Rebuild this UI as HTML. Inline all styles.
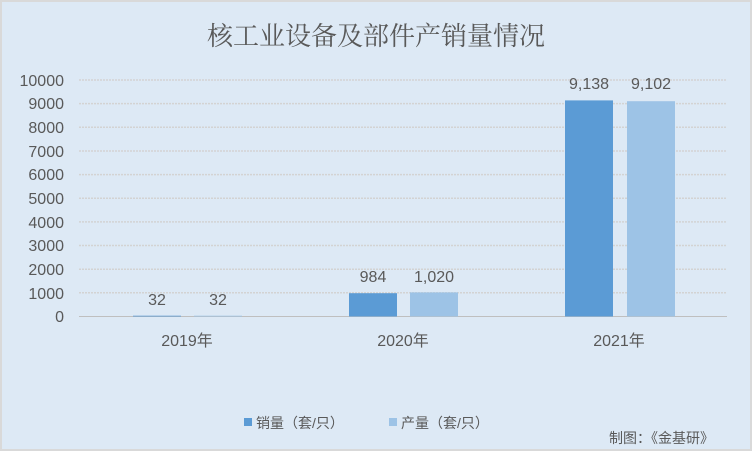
<!DOCTYPE html>
<html><head><meta charset="utf-8"><style>
body{margin:0;width:752px;height:451px;overflow:hidden;background:#dce9f5}
svg{display:block}
text{font-family:"Liberation Sans","Noto Sans CJK SC",sans-serif;fill:#595959}
</style></head><body>
<svg width="752" height="451" viewBox="0 0 752 451">
<rect x="1" y="1" width="750" height="449" fill="#dde9f5" stroke="#d9d9d9" stroke-width="2"/>
<text x="376" y="45" text-anchor="middle" font-size="26" style="font-family:'Noto Serif CJK SC',serif" fill="#595959">核工业设备及部件产销量情况</text>
<g stroke="#d3d3d3" stroke-width="1.5" stroke-dasharray="2,1">
<line x1="79" x2="727" y1="80" y2="80"/><line x1="79" x2="727" y1="103.6" y2="103.6"/>
<line x1="79" x2="727" y1="127.3" y2="127.3"/><line x1="79" x2="727" y1="151" y2="151"/>
<line x1="79" x2="727" y1="174.6" y2="174.6"/><line x1="79" x2="727" y1="198.2" y2="198.2"/>
<line x1="79" x2="727" y1="221.9" y2="221.9"/><line x1="79" x2="727" y1="245.5" y2="245.5"/>
<line x1="79" x2="727" y1="269.2" y2="269.2"/><line x1="79" x2="727" y1="292.8" y2="292.8"/>
</g>
<line x1="79" x2="727" y1="316.5" y2="316.5" stroke="#bfbfbf" stroke-width="1"/>
<g font-size="16" text-anchor="end">
<text x="64" y="86">10000</text><text x="64" y="109">9000</text><text x="64" y="133">8000</text>
<text x="64" y="157">7000</text><text x="64" y="180">6000</text><text x="64" y="204">5000</text>
<text x="64" y="228">4000</text><text x="64" y="251">3000</text><text x="64" y="275">2000</text>
<text x="64" y="299">1000</text><text x="64" y="322">0</text>
</g>
<rect x="133" y="315.7" width="48" height="0.8" fill="#5b9bd5"/>
<rect x="194" y="315.7" width="48" height="0.8" fill="#9dc3e6"/>
<rect x="349" y="293.2" width="48" height="23.3" fill="#5b9bd5"/>
<rect x="410" y="292.4" width="48" height="24.1" fill="#9dc3e6"/>
<rect x="565" y="100.4" width="48" height="216.1" fill="#5b9bd5"/>
<rect x="627" y="101.2" width="48" height="215.3" fill="#9dc3e6"/>
<g font-size="16" text-anchor="middle">
<text x="157" y="305">32</text><text x="218" y="305">32</text>
<text x="373" y="282">984</text><text x="434" y="282">1,020</text>
<text x="589" y="89">9,138</text><text x="651" y="89">9,102</text>
<text x="187" y="346">2019年</text><text x="403" y="346">2020年</text><text x="619" y="346">2021年</text>
</g>
<rect x="244" y="418" width="8" height="8" fill="#5b9bd5"/>
<text x="256" y="428" font-size="14">销量（套/只）</text>
<rect x="389" y="418" width="8" height="8" fill="#9dc3e6"/>
<text x="401" y="428" font-size="14">产量（套/只）</text>
<text x="609" y="443" font-size="14" fill="#404040">制图：《金基研》</text>
</svg>
</body></html>
